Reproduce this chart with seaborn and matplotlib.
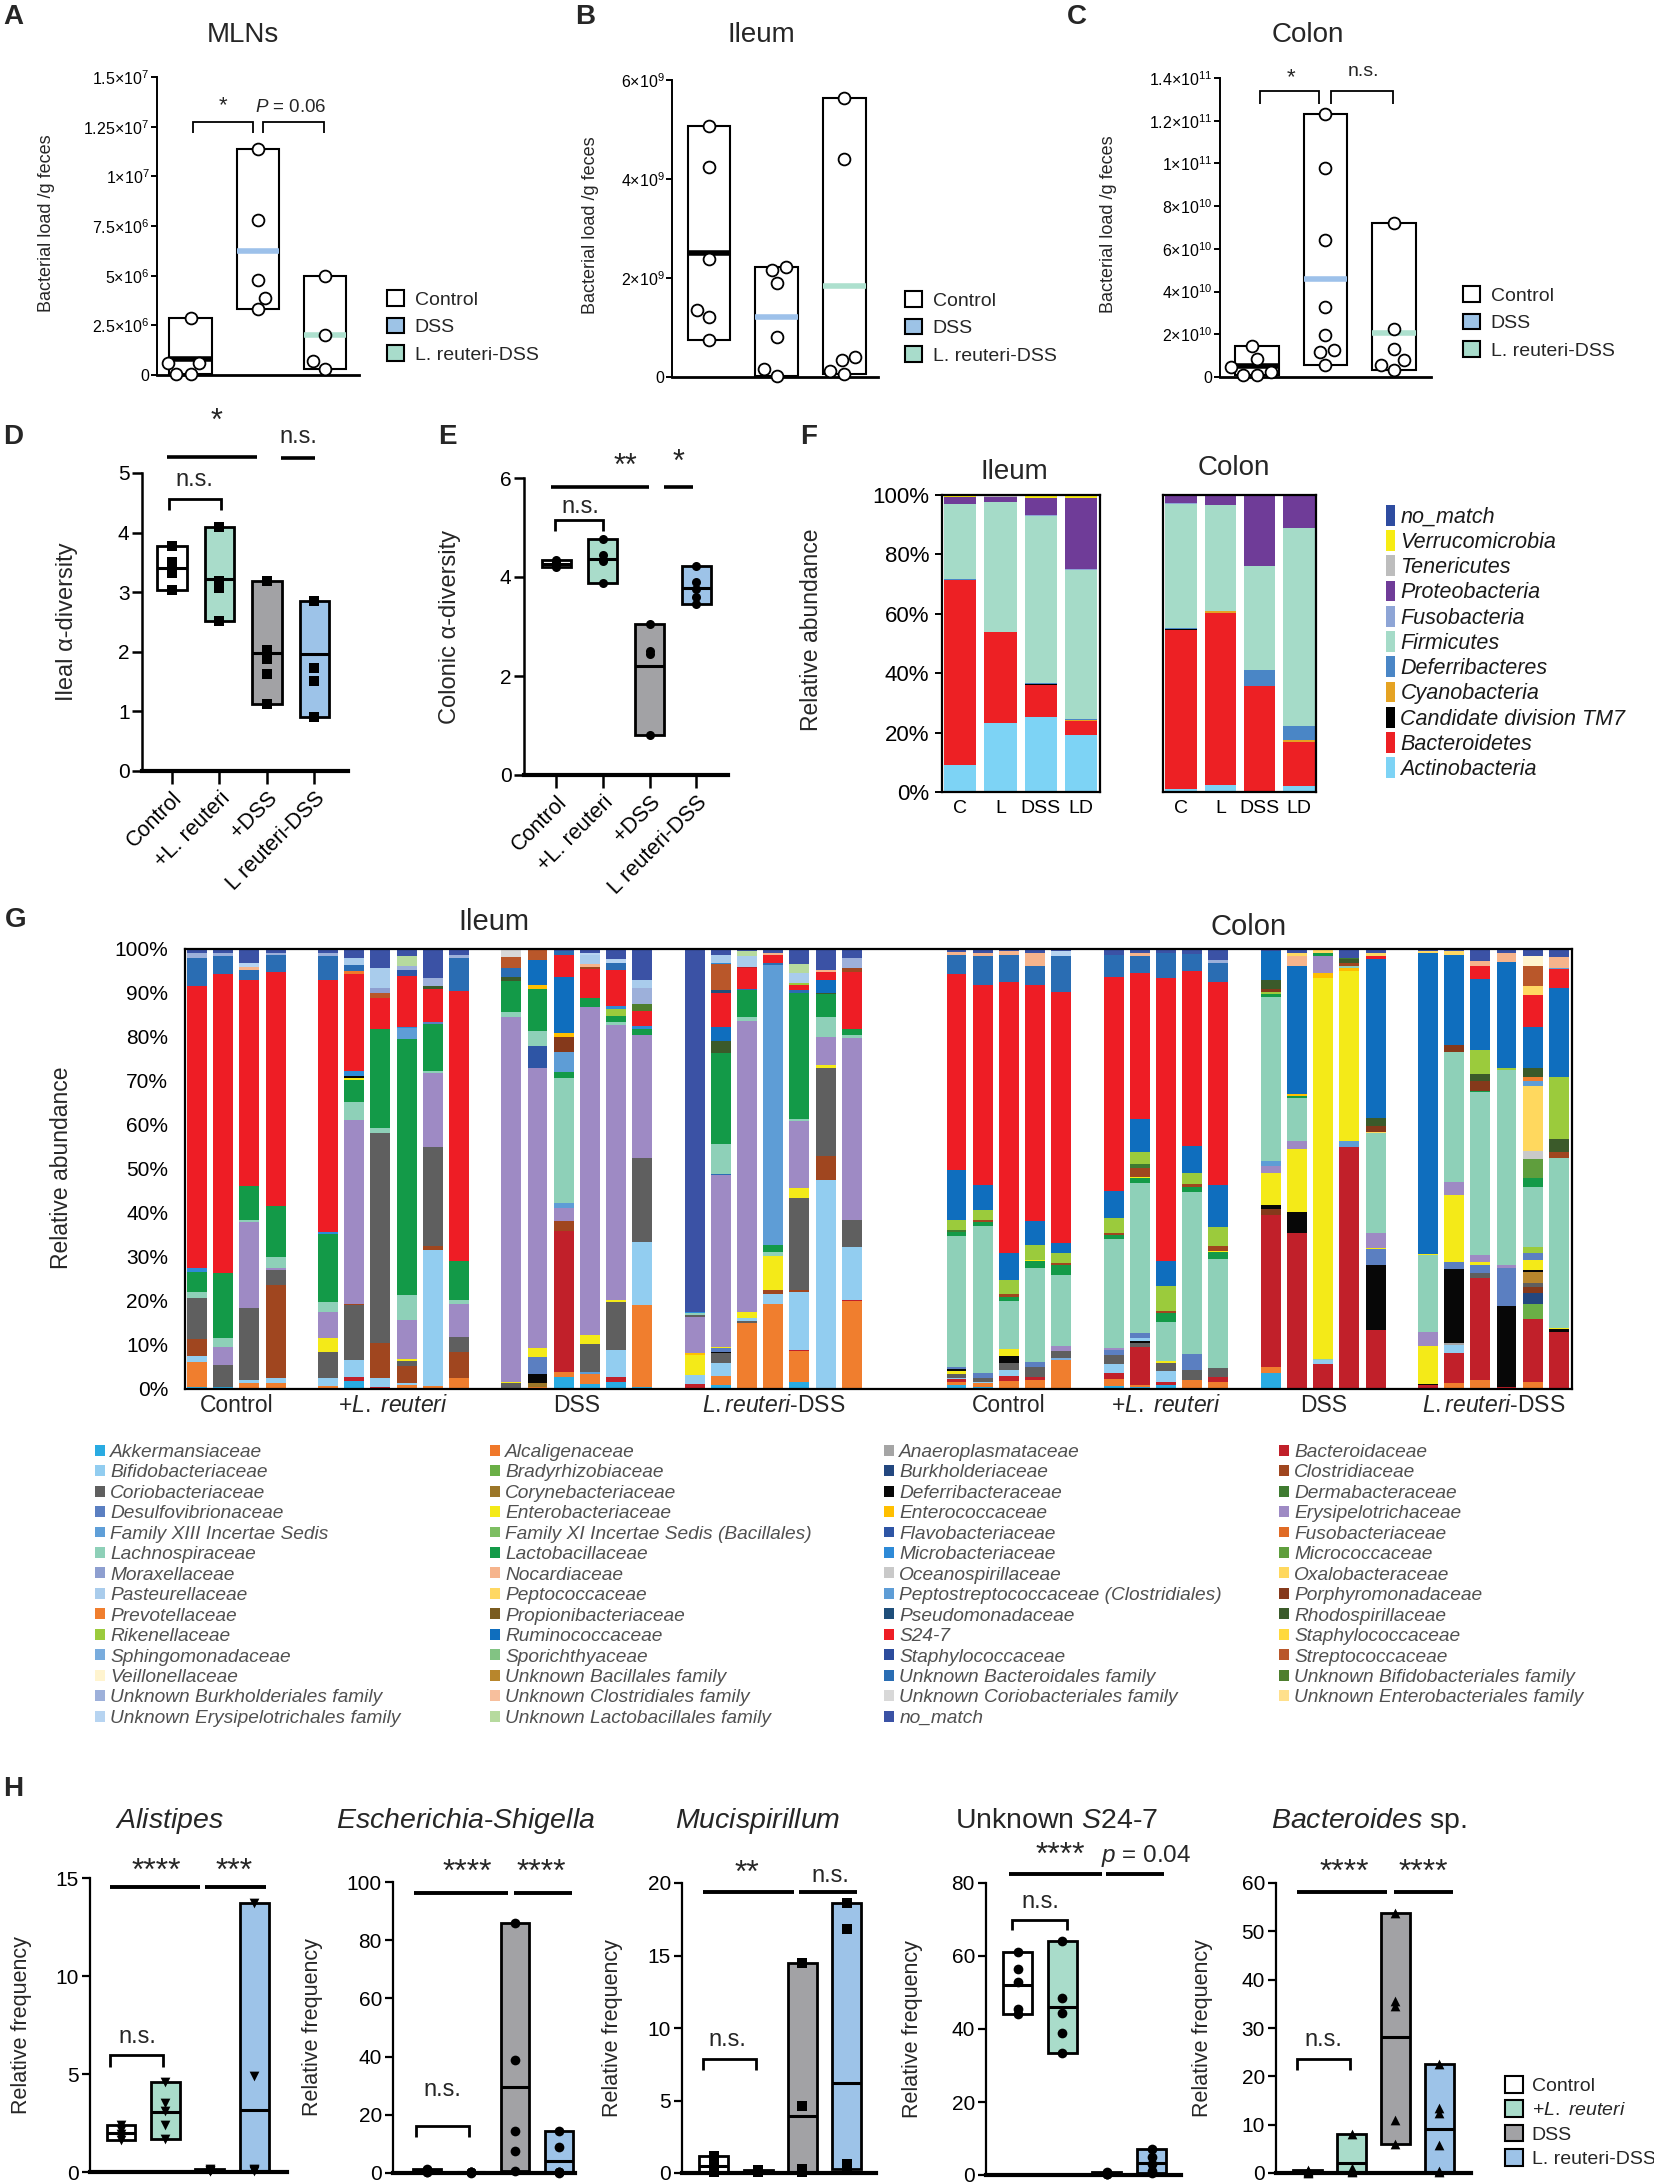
import numpy as np
import pandas as pd
import matplotlib.pyplot as plt
from matplotlib.patches import Patch
import seaborn as sns

# ---------------- A-C: bacterial load / g feces ----------------
abc_groups = ['Control', 'DSS', 'L. reuteri-DSS']
mln_control = [2.85e6, 0.6e6, 0.6e6, 0.05e6, 0.05e6]
mln_dss = [11.4e6, 7.8e6, 4.8e6, 3.9e6, 3.3e6]
mln_lrdss = [5.0e6, 2.0e6, 0.7e6, 0.3e6]
ileum_control = [5.07e9, 4.25e9, 2.39e9, 1.35e9, 1.21e9, 0.755e9]
ileum_dss = [2.22e9, 2.16e9, 1.9e9, 0.81e9, 0.17e9, 0.03e9]
ileum_lrdss = [5.63e9, 4.4e9, 0.4e9, 0.34e9, 0.13e9, 0.07e9]
colon_control = [1.45e10, 0.85e10, 0.45e10, 0.25e10, 0.1e10, 0.1e10]
colon_dss = [12.3e10, 9.8e10, 6.4e10, 3.3e10, 1.95e10, 1.25e10, 1.17e10, 0.58e10]
colon_lrdss = [7.2e10, 2.27e10, 1.33e10, 0.78e10, 0.55e10, 0.31e10]

mln_ticks = [0, 2.5e6, 5e6, 7.5e6, 1e7, 1.25e7, 1.5e7]
mln_ticklabels = ['0', '2.5×10$^{6}$', '5×10$^{6}$', '7.5×10$^{6}$',
                  '1×10$^{7}$', '1.25×10$^{7}$', '1.5×10$^{7}$']
ileum_ticks = [0, 2e9, 4e9, 6e9]
ileum_ticklabels = ['0', '2×10$^{9}$', '4×10$^{9}$', '6×10$^{9}$']
colon_ticks = [0, 2e10, 4e10, 6e10, 8e10, 1e11, 1.2e11, 1.4e11]
colon_ticklabels = ['0', '2×10$^{10}$', '4×10$^{10}$', '6×10$^{10}$', '8×10$^{10}$',
                    '1×10$^{11}$', '1.2×10$^{11}$', '1.4×10$^{11}$']

# ---------------- D-E: alpha diversity ----------------
de_groups = ['Control', '+L. reuteri', '+DSS', 'L reuteri-DSS']
ileal_control = [3.78, 3.51, 3.33, 3.03]
ileal_lr = [4.1, 3.19, 3.07, 2.52]
ileal_dss = [3.19, 2.03, 1.88, 1.63, 1.13]
ileal_lrdss = [2.86, 2.86, 1.72, 1.51, 0.9]
colonic_control = [4.35, 4.3, 4.28, 4.22, 4.2]
colonic_lr = [4.77, 4.45, 4.32, 3.88]
colonic_dss = [3.05, 2.5, 2.45, 0.8]
colonic_lrdss = [4.22, 3.9, 3.75, 3.6, 3.45]

# ---------------- F: phylum level ----------------
f_phyla = ['Actinobacteria', 'Bacteroidetes', 'Candidate division TM7', 'Cyanobacteria',
           'Deferribacteres', 'Firmicutes', 'Fusobacteria', 'Proteobacteria',
           'Tenericutes', 'Verrucomicrobia', 'no_match']
f_samples = ['C', 'L', 'DSS', 'LD']
f_ileum_c = [9.2, 62.4, 0.1, 0.1, 0.1, 25.5, 0.1, 2.2, 0.1, 0.3, 0.3]
f_ileum_l = [23.3, 30.6, 0.1, 0.1, 0.1, 43.8, 0.1, 1.6, 0.1, 0.3, 0.2]
f_ileum_dss = [25.3, 10.9, 0.1, 0.2, 0.3, 56.3, 0.1, 5.9, 0.1, 0.7, 0.2]
f_ileum_ld = [19.3, 4.5, 0.1, 0.5, 0.1, 50.5, 0.1, 24.1, 0.1, 0.6, 0.3]
f_colon_c = [1.0, 53.8, 0.1, 0.1, 0.3, 42.0, 0.1, 2.4, 0.1, 0.1, 0.2]
f_colon_l = [2.5, 57.9, 0.1, 0.5, 0.1, 35.7, 0.1, 2.8, 0.1, 0.1, 0.3]
f_colon_dss = [0.5, 35.2, 0.1, 0.1, 5.4, 34.8, 0.1, 23.5, 0.1, 0.3, 0.1]
f_colon_ld = [1.9, 15.0, 0.1, 0.5, 4.8, 66.9, 0.1, 10.7, 0.1, 0.1, 0.1]
f_colors = ['#7DD3F5', '#ED2024', '#000000', '#E5A323', '#4A86C6', '#A5DBC8',
            '#8EA5D6', '#6F3C98', '#BDBDBD', '#F7EC13', '#2E4CA0']

# ---------------- G: family level ----------------
family_codes = ['akk', 'bif', 'cori', 'desu', 'fx13', 'lach', 'mora', 'past', 'prev', 'rike',
                'sphi', 'veil', 'uburk', 'uery',
                'alca', 'brad', 'cory', 'ente', 'fx11', 'lact', 'noca', 'pepc', 'prop', 'rumi',
                'spor', 'ubaci', 'uclos', 'ulact',
                'anae', 'burk', 'defe', 'entc', 'flav', 'micb', 'ocea', 'pept', 'pseu', 's247',
                'stap', 'ubact', 'ucori', 'nom',
                'bact', 'clos', 'derm', 'erys', 'fuso', 'micc', 'oxal', 'porp', 'rhod', 'stap2',
                'strep', 'ubifi', 'uente']
family_names = ['Akkermansiaceae', 'Bifidobacteriaceae', 'Coriobacteriaceae', 'Desulfovibrionaceae',
                'Family XIII Incertae Sedis', 'Lachnospiraceae', 'Moraxellaceae', 'Pasteurellaceae',
                'Prevotellaceae', 'Rikenellaceae', 'Sphingomonadaceae', 'Veillonellaceae',
                'Unknown Burkholderiales family', 'Unknown Erysipelotrichales family',
                'Alcaligenaceae', 'Bradyrhizobiaceae', 'Corynebacteriaceae', 'Enterobacteriaceae',
                'Family XI Incertae Sedis (Bacillales)', 'Lactobacillaceae', 'Nocardiaceae',
                'Peptococcaceae', 'Propionibacteriaceae', 'Ruminococcaceae', 'Sporichthyaceae',
                'Unknown Bacillales family', 'Unknown Clostridiales family',
                'Unknown Lactobacillales family',
                'Anaeroplasmataceae', 'Burkholderiaceae', 'Deferribacteraceae', 'Enterococcaceae',
                'Flavobacteriaceae', 'Microbacteriaceae', 'Oceanospirillaceae',
                'Peptostreptococcaceae (Clostridiales)', 'Pseudomonadaceae', 'S24-7',
                'Staphylococcaceae', 'Unknown Bacteroidales family',
                'Unknown Coriobacteriales family', 'no_match',
                'Bacteroidaceae', 'Clostridiaceae', 'Dermabacteraceae', 'Erysipelotrichaceae',
                'Fusobacteriaceae', 'Micrococcaceae', 'Oxalobacteraceae', 'Porphyromonadaceae',
                'Rhodospirillaceae', 'Staphylococcaceae', 'Streptococcaceae',
                'Unknown Bifidobacteriales family', 'Unknown Enterobacteriales family']
family_colors = ['#29ABE2', '#92CDF0', '#5F5F5F', '#5B7FC1', '#5F9FD8', '#8ED0B8', '#8E9FD0',
                 '#A9CCEC', '#F07E2E', '#9BCB3C', '#79ACDD', '#FFF4CF', '#9DB0DA', '#B7D4F1',
                 '#F0782A', '#6AAF46', '#9B7628', '#F4EA18', '#7DBE62', '#139A48', '#F6B48C',
                 '#FFD863', '#7A5B1F', '#0F6EBE', '#82C383', '#B8862C', '#F7BF9D', '#B6DA9E',
                 '#A5A5A5', '#23477F', '#070707', '#FFBF00', '#2E55A5', '#2E8AD7', '#C9C9C9',
                 '#5E9DD6', '#1F4E7A', '#EE1D25', '#2C4C9C', '#2A6DB3', '#D8D8D8', '#3B52A5',
                 '#C1202A', '#A0461F', '#3F7B31', '#9E8AC4', '#E06B25', '#5F9E3D', '#FFD85E',
                 '#85391B', '#3B5A2A', '#FFD93C', '#B9572A', '#4E7E2E', '#FFE08C']

ileum_control_bars = [
    [('akk', 0.5), ('prev', 5.7), ('bif', 1.2), ('clos', 3.9), ('cori', 9.3), ('lach', 1.4), ('lact', 4.7),
     ('micb', 0.7), ('s247', 64.3), ('ubact', 6.3), ('uburk', 1.2), ('nom', 0.8)],
    [('akk', 0.5), ('cori', 5.0), ('erys', 4.1), ('lach', 1.9), ('lact', 14.8), ('s247', 68.0),
     ('ubact', 4.0), ('uburk', 0.8), ('nom', 0.9)],
    [('akk', 0.3), ('prev', 1.0), ('bif', 0.7), ('cori', 16.4), ('erys', 19.6), ('lach', 0.6), ('lact', 7.7),
     ('s247', 46.9), ('ubact', 2.4), ('noca', 0.6), ('uery', 0.9), ('nom', 3.2)],
    [('akk', 0.3), ('prev', 1.0), ('bif', 1.1), ('clos', 21.3), ('cori', 3.4), ('erys', 0.3), ('lach', 2.5),
     ('lact', 11.6), ('s247', 53.3), ('ubact', 3.9), ('uburk', 0.5), ('nom', 0.8)],
]
ileum_lr_bars = [
    [('akk', 0.3), ('prev', 0.4), ('bif', 1.7), ('cori', 6.1), ('ente', 3.2), ('erys', 5.9), ('lach', 2.1),
     ('lact', 15.6), ('micb', 0.3), ('s247', 57.4), ('ubact', 5.3), ('uburk', 0.8), ('nom', 0.9)],
    [('akk', 1.9), ('bact', 0.9), ('bif', 3.8), ('cori', 12.5), ('clos', 0.2), ('erys', 41.8), ('lach', 4.1),
     ('lact', 5.0), ('ente', 0.5), ('defe', 0.4), ('micb', 1.1), ('s247', 22.1), ('alca', 0.6),
     ('ubact', 1.5), ('past', 1.5), ('nom', 2.1)],
    [('bact', 0.4), ('bif', 2.0), ('clos', 8.0), ('cori', 47.8), ('lach', 1.1), ('lact', 22.7), ('s247', 6.9),
     ('strep', 1.3), ('mora', 1.0), ('past', 4.6), ('nom', 4.3)],
    [('prev', 0.9), ('bif', 0.4), ('clos', 3.9), ('cori', 1.1), ('ente', 0.6), ('erys', 8.7), ('lach', 5.7),
     ('lact', 58.1), ('pept', 2.5), ('micb', 0.4), ('s247', 11.5), ('flav', 1.4), ('uburk', 0.8),
     ('ulact', 2.3), ('nom', 1.6)],
    [('prev', 0.7), ('bif', 30.9), ('clos', 0.8), ('cori', 22.7), ('erys', 16.8), ('lach', 0.3),
     ('lact', 10.8), ('desu', 0.5), ('s247', 7.4), ('rhod', 0.8), ('uburk', 1.7), ('nom', 6.6)],
    [('prev', 2.4), ('clos', 6.1), ('cori', 3.4), ('erys', 7.4), ('lach', 0.9), ('lact', 8.9),
     ('s247', 61.3), ('ubact', 7.6), ('uburk', 0.7), ('nom', 1.3)],
]
ileum_dss_bars = [
    [('bact', 0.2), ('cori', 1.1), ('ente', 0.3), ('erys', 82.9), ('lach', 1.1), ('lact', 7.2), ('rhod', 0.8),
     ('ubact', 2.0), ('strep', 2.5), ('ucori', 1.6), ('nom', 0.3)],
    [('prev', 0.5), ('cory', 0.9), ('defe', 2.1), ('desu', 3.8), ('ente', 2.1), ('erys', 63.4), ('flav', 5.1),
     ('lach', 3.3), ('lact', 9.6), ('entc', 0.9), ('rumi', 5.7), ('strep', 2.1), ('nom', 0.3)],
    [('akk', 2.8), ('prev', 1.1), ('bact', 31.9), ('clos', 2.3), ('erys', 3.0), ('pept', 1.1), ('lach', 28.5),
     ('lact', 1.3), ('pept', 4.7), ('porp', 3.4), ('entc', 0.8), ('rumi', 12.7), ('s247', 5.1),
     ('ubact', 0.8), ('nom', 0.5)],
    [('akk', 1.1), ('prev', 2.4), ('pept', 0.3), ('cori', 6.3), ('ente', 2.1), ('erys', 74.1), ('lact', 2.1),
     ('s247', 6.4), ('clos', 0.5), ('noca', 0.6), ('past', 2.2), ('uery', 0.5), ('nom', 0.8)],
    [('akk', 1.7), ('bact', 1.0), ('bif', 6.2), ('cori', 11.1), ('ente', 0.3), ('erys', 62.9), ('lach', 0.8),
     ('lact', 1.4), ('rike', 1.5), ('micb', 0.8), ('s247', 8.3), ('ubact', 1.5), ('uery', 0.8),
     ('nom', 2.4)],
    [('akk', 0.5), ('prev', 18.6), ('bif', 14.4), ('cori', 19.0), ('erys', 28.0), ('lact', 1.3), ('micb', 0.6),
     ('s247', 3.6), ('ubifi', 1.6), ('uburk', 3.5), ('past', 1.9), ('nom', 7.0)],
]
ileum_lrdss_bars = [
    [('bact', 1.1), ('bif', 2.1), ('ente', 4.5), ('entc', 0.4), ('erys', 8.3), ('cori', 0.4), ('lach', 0.4),
     ('micb', 0.4), ('nom', 82.4)],
    [('akk', 0.9), ('prev', 2.1), ('bif', 3.0), ('cori', 2.1), ('defe', 0.3), ('desu', 0.8), ('ente', 0.3),
     ('erys', 39.0), ('ubact', 0.4), ('lach', 6.8), ('lact', 20.6), ('rhod', 2.7), ('rumi', 3.1),
     ('s247', 7.7), ('pseu', 0.8), ('strep', 5.9), ('micb', 0.3), ('past', 1.7), ('nom', 1.4)],
    [('akk', 0.3), ('prev', 14.6), ('cori', 0.6), ('bif', 0.5), ('ente', 1.5), ('erys', 65.9), ('lach', 0.8),
     ('lact', 6.1), ('ubact', 0.4), ('s247', 4.7), ('bact', 0.3), ('past', 2.4), ('ulact', 1.2),
     ('nom', 0.4)],
    [('akk', 0.3), ('prev', 18.9), ('bif', 2.3), ('clos', 1.0), ('ente', 7.7), ('lach', 0.8), ('lact', 1.7),
     ('pept', 63.4), ('ubact', 0.5), ('s247', 1.7), ('noca', 0.5), ('nom', 0.9)],
    [('akk', 1.7), ('prev', 7.0), ('bact', 0.2), ('bif', 13.2), ('clos', 0.4), ('cori', 20.8), ('ente', 2.4),
     ('erys', 15.2), ('lach', 0.5), ('lact', 28.4), ('ubact', 0.7), ('s247', 1.2), ('rike', 0.4),
     ('past', 2.4), ('ulact', 2.1), ('nom', 3.3)],
    [('bact', 0.3), ('bif', 47.0), ('clos', 5.5), ('cori', 19.9), ('ente', 0.7), ('erys', 6.3), ('lach', 4.5),
     ('lact', 5.3), ('rhod', 0.3), ('rumi', 2.8), ('s247', 1.9), ('noca', 0.4), ('nom', 4.8)],
    [('akk', 0.3), ('prev', 19.7), ('bact', 0.3), ('bif', 11.9), ('cori', 6.2), ('erys', 41.3), ('lach', 0.8),
     ('lact', 1.3), ('s247', 13.0), ('clos', 0.8), ('uburk', 2.4), ('nom', 2.0)],
]
colon_control_bars = [
    [('akk', 0.8), ('prev', 0.9), ('bact', 0.5), ('bif', 0.2), ('cori', 1.0), ('ente', 0.7), ('defe', 0.5),
     ('desu', 0.5), ('lach', 29.6), ('lact', 1.1), ('derm', 0.3), ('rike', 2.4), ('rumi', 11.4),
     ('s247', 44.6), ('ubact', 4.3), ('noca', 0.7), ('nom', 0.6)],
    [('akk', 0.4), ('prev', 0.9), ('bif', 0.4), ('cori', 0.8), ('desu', 1.1), ('lach', 33.4), ('lact', 1.1),
     ('clos', 0.3), ('rike', 2.4), ('rumi', 5.5), ('s247', 45.7), ('ubact', 6.4), ('noca', 0.9),
     ('nom', 0.8)],
    [('akk', 0.3), ('prev', 1.5), ('bact', 1.1), ('bif', 1.4), ('cori', 1.7), ('defe', 1.4), ('ente', 1.6),
     ('lach', 11.1), ('lact', 0.9), ('clos', 0.5), ('rike', 3.3), ('rumi', 6.1), ('s247', 61.8),
     ('ubact', 6.1), ('noca', 0.8), ('nom', 0.5)],
    [('akk', 0.3), ('prev', 1.7), ('bact', 0.8), ('cori', 2.1), ('desu', 1.3), ('lach', 21.4), ('lact', 1.5),
     ('ente', 0.3), ('rike', 3.3), ('rumi', 5.6), ('s247', 53.5), ('ubact', 4.5), ('noca', 2.9),
     ('nom', 0.9)],
    [('akk', 0.3), ('prev', 6.3), ('sphi', 0.4), ('cori', 1.7), ('erys', 1.0), ('lach', 16.3), ('lact', 2.3),
     ('clos', 0.3), ('rike', 2.3), ('rumi', 2.3), ('s247', 57.1), ('ubact', 8.3), ('uery', 1.0),
     ('nom', 0.5)],
]
colon_lr_bars = [
    [('akk', 0.7), ('prev', 1.6), ('bact', 1.4), ('bif', 2.0), ('cori', 2.0), ('desu', 1.1), ('erys', 0.6),
     ('lach', 24.6), ('lact', 0.9), ('clos', 0.6), ('rike', 3.4), ('rumi', 6.1), ('s247', 48.5),
     ('ubact', 5.1), ('nom', 1.3)],
    [('akk', 0.5), ('prev', 0.3), ('bact', 8.7), ('cori', 0.9), ('defe', 0.4), ('bif', 0.8), ('desu', 1.1),
     ('lach', 34.1), ('lact', 1.1), ('ente', 0.3), ('clos', 1.9), ('derm', 1.0), ('rike', 2.8),
     ('rumi', 7.3), ('s247', 33.2), ('ubact', 3.8), ('noca', 0.9), ('nom', 0.8)],
    [('akk', 0.8), ('bact', 0.9), ('bif', 2.3), ('cori', 2.0), ('ente', 0.3), ('lach', 8.9), ('lact', 2.0),
     ('clos', 0.5), ('rike', 5.7), ('rumi', 5.8), ('s247', 64.3), ('ubact', 5.7), ('nom', 0.9)],
    [('prev', 2.0), ('cori', 2.3), ('desu', 3.6), ('lach', 36.9), ('lact', 1.0), ('clos', 0.8), ('rike', 2.4),
     ('rumi', 6.2), ('s247', 39.8), ('ubact', 3.9), ('nom', 1.1)],
    [('prev', 1.7), ('bact', 1.0), ('cori', 2.0), ('lach', 24.8), ('lact', 1.6), ('ente', 0.4), ('clos', 1.1),
     ('rike', 4.2), ('rumi', 9.7), ('s247', 46.2), ('ubact', 4.3), ('uburk', 0.5), ('nom', 2.6)],
]
colon_dss_bars = [
    [('akk', 3.6), ('prev', 1.4), ('bact', 34.6), ('porp', 1.5), ('defe', 0.8), ('ente', 7.4), ('erys', 1.5),
     ('pept', 1.2), ('lach', 37.2), ('lact', 0.8), ('rike', 0.3), ('porp', 0.8), ('rhod', 2.0),
     ('rumi', 6.6), ('nom', 0.5)],
    [('bact', 35.4), ('defe', 4.9), ('ente', 14.2), ('erys', 1.9), ('lach', 9.7), ('lact', 0.6),
     ('entc', 0.3), ('rumi', 29.2), ('noca', 2.3), ('pepc', 0.6), ('nom', 0.9)],
    [('bact', 5.7), ('bif', 0.8), ('lach', 0.3), ('ente', 86.6), ('entc', 1.1), ('erys', 3.9), ('lact', 0.6),
     ('pepc', 0.9)],
    [('prev', 0.3), ('bact', 54.8), ('pept', 1.4), ('ente', 38.7), ('entc', 0.5), ('lach', 0.5),
     ('clos', 0.8), ('rhod', 0.8), ('derm', 0.3), ('nom', 2.0)],
    [('bact', 13.4), ('defe', 14.8), ('desu', 3.6), ('ente', 0.3), ('erys', 3.3), ('lach', 22.8),
     ('pepc', 0.3), ('porp', 1.2), ('rhod', 1.9), ('rumi', 36.1), ('s247', 0.6), ('pepc', 0.8),
     ('nom', 0.9)],
]
colon_lrdss_bars = [
    [('bact', 0.9), ('defe', 0.3), ('ente', 8.5), ('erys', 3.3), ('lach', 17.4), ('ente', 0.3),
     ('rumi', 68.5), ('pepc', 0.5), ('nom', 0.4)],
    [('prev', 1.3), ('bact', 6.8), ('bif', 1.9), ('anae', 0.5), ('defe', 16.7), ('desu', 1.7),
     ('ente', 15.2), ('erys', 3.0), ('lach', 29.4), ('porp', 1.7), ('rumi', 20.3), ('pepc', 0.9),
     ('nom', 0.5)],
    [('akk', 0.3), ('prev', 1.7), ('bact', 23.3), ('cori', 1.0), ('desu', 1.9), ('ente', 0.6), ('erys', 1.7),
     ('lach', 36.9), ('lact', 0.3), ('porp', 2.3), ('rhod', 1.5), ('rike', 5.4), ('rumi', 16.2),
     ('s247', 3.0), ('noca', 1.0), ('nom', 2.8)],
    [('bact', 0.4), ('defe', 18.5), ('desu', 8.5), ('erys', 0.8), ('lach', 44.4), ('rike', 0.3),
     ('rumi', 24.1), ('noca', 2.1), ('nom', 0.9)],
    [('prev', 1.7), ('bact', 14.2), ('brad', 3.4), ('burk', 2.5), ('porp', 1.3), ('cori', 1.1),
     ('ubaci', 2.5), ('defe', 0.3), ('ente', 2.3), ('desu', 1.7), ('rike', 1.2), ('lach', 13.8),
     ('lact', 1.9), ('micc', 4.4), ('ocea', 1.7), ('oxal', 14.9), ('pept', 1.0), ('prev', 1.1),
     ('rhod', 1.9), ('rumi', 9.3), ('s247', 7.4), ('pepc', 1.9), ('strep', 4.7), ('veil', 2.3),
     ('nom', 1.5)],
    [('prev', 0.3), ('bact', 12.7), ('defe', 0.6), ('ente', 0.3), ('lach', 38.4), ('clos', 1.4),
     ('rhod', 3.0), ('rike', 14.0), ('rumi', 20.1), ('s247', 4.3), ('pept', 0.3), ('noca', 2.3),
     ('nom', 1.9)],
]
g_group_labels = ['Control', r'+$\it{L.\ reuteri}$', 'DSS', r'$\it{L.reuteri}$-DSS']

# ---------------- H: genus level ----------------
h_groups = ['Control', '+L. reuteri', 'DSS', 'L. reuteri-DSS']
alist_control = [2.4, 2.15, 1.95, 1.8, 1.65]
alist_lr = [4.6, 3.5, 3.1, 2.4, 1.7]
alist_dss = [0.15, 0.1, 0.05, 0.05, 0.03]
alist_lrdss = [13.7, 4.9, 0.15, 0.12, 0.08, 0.05]
esch_control = [1.5, 1.0, 0.8, 0.5, 0.3]
esch_lr = [0.5, 0.4, 0.3, 0.2, 0.1]
esch_dss = [86.0, 38.9, 14.3, 7.4, 0.6]
esch_lrdss = [14.6, 8.9, 0.4, 0.3, 0.2, 0.1]
muci_control = [1.15, 0.5, 0.35, 0.2, 0.1]
muci_lr = [0.2, 0.15, 0.1, 0.1, 0.05]
muci_dss = [14.5, 4.6, 0.3, 0.2, 0.1]
muci_lrdss = [18.6, 16.8, 0.6, 0.5, 0.4, 0.3]
s24_control = [61.2, 56.5, 53.0, 45.5, 44.0]
s24_lr = [64.0, 48.5, 44.5, 39.0, 33.5]
s24_dss = [0.8, 0.5, 0.4, 0.3, 0.2]
s24_lrdss = [7.2, 5.0, 3.0, 1.0, 0.5]
bacteroides_control = [0.6, 0.4, 0.3, 0.2, 0.1]
bacteroides_lr = [8.0, 1.0, 0.5, 0.5, 0.3]
bacteroides_dss = [53.8, 35.5, 34.5, 11.0, 6.0]
bacteroides_lrdss = [22.5, 13.5, 12.5, 5.8, 0.5, 0.2]

# colours
group_fills = ['white', '#A9DCCA', '#A2A2A5', '#9DC3E8']
abc_line_colors = ['black', '#9DC1EA', '#ADE0CE']
abc_legend_colors = ['white', '#9DC3E6', '#A8DCCB']

sns.set_style('ticks')
plt.rcParams['font.family'] = ['Liberation Sans', 'DejaVu Sans']
plt.rcParams['mathtext.fontset'] = 'custom'
plt.rcParams['mathtext.rm'] = 'Liberation Sans'
plt.rcParams['mathtext.it'] = 'Liberation Sans:italic'
plt.rcParams['mathtext.bf'] = 'Liberation Sans:bold'
plt.rcParams['axes.edgecolor'] = 'black'
plt.rcParams['xtick.color'] = 'black'
plt.rcParams['ytick.color'] = 'black'

W, H = 1654, 2183
fig = plt.figure(figsize=(W / 100, H / 100), dpi=100)


def px_axes(left, top, right, bottom):
    return fig.add_axes([left / W, 1 - bottom / H, (right - left) / W, (bottom - top) / H])


def fig_text(x, y, s, **kw):
    fig.text(x / W, 1 - y / H, s, ha=kw.pop('ha', 'center'), va=kw.pop('va', 'center'), **kw)


def floating(ax, groups, values, fills, line_colors, width, line_lw, swarm,
             marker='o', size=7, color='black', edgecolor='black', ew=0.0, box_lw=1.5):
    for i, vals in enumerate(values):
        lo, hi = min(vals), max(vals)
        ax.bar(i, hi - lo, bottom=lo, width=width, color=fills[i],
               edgecolor='black', linewidth=box_lw, zorder=1)
        ax.hlines(np.mean(vals), i - width / 2, i + width / 2, colors=line_colors[i],
                  linewidth=line_lw, zorder=2, capstyle='butt')
    df = pd.DataFrame({'group': np.repeat(groups, [len(v) for v in values]),
                       'value': np.concatenate(values)})
    n0 = len(ax.collections)
    kw = dict(data=df, x='group', y='value', order=groups, ax=ax, marker=marker,
              size=size, color=color, edgecolor=edgecolor, linewidth=ew, legend=False)
    if swarm:
        sns.swarmplot(**kw)
    else:
        sns.stripplot(jitter=False, **kw)
    for c in ax.collections[n0:]:
        c.set_clip_on(False)
        c.set_zorder(3)
    ax.set_xlabel('')
    ax.set_ylabel('')


def sig(ax, x1, x2, y, drop=0.0, lw=1.5):
    ax.plot([x1, x1, x2, x2], [y - drop, y, y, y - drop], color='black', lw=lw,
            clip_on=False, solid_capstyle='butt', solid_joinstyle='miter')


def note(ax, x, y, s, fs):
    ax.text(x, y, s, ha='center', va='center', fontsize=fs, clip_on=False)


def style(ax, xlim, ylim, ticks, ticklabels, fs, tick_len, pad=2, bottom_lw=2.0, left_lw=1.4):
    ax.set_xlim(*xlim)
    ax.set_ylim(*ylim)
    ax.set_yticks(ticks, ticklabels)
    ax.tick_params(axis='y', labelsize=fs, length=tick_len, width=left_lw, pad=pad)
    ax.spines['top'].set_visible(False)
    ax.spines['right'].set_visible(False)
    ax.spines['left'].set_linewidth(left_lw)
    ax.spines['bottom'].set_linewidth(bottom_lw)


# ---------------- panels A-C ----------------
abc_specs = [
    ('MLNs', (157, 77, 359, 375), [mln_control, mln_dss, mln_lrdss], (-0.5, 2.51), (0, 1.5e7),
     mln_ticks, mln_ticklabels, -0.507, 243, 387, 290),
    ('Ileum', (672, 80, 878, 377), [ileum_control, ileum_dss, ileum_lrdss], (-0.55, 2.5), (0, 6e9),
     ileum_ticks, ileum_ticklabels, -0.354, 761, 905, 291),
    ('Colon', (1220, 78, 1431, 377), [colon_control, colon_dss, colon_lrdss], (-0.54, 2.54), (0, 1.4e11),
     colon_ticks, colon_ticklabels, -0.49, 1308, 1463, 286),
]
abc_axes = []
for title, box, vals, xlim, ylim, ticks, tlabels, ylab_x, title_x, leg_x, leg_y in abc_specs:
    ax = px_axes(*box)
    ax.set_ylim(*ylim)
    ax.set_xlim(*xlim)
    floating(ax, abc_groups, vals, ['white'] * 3, abc_line_colors, 0.63, 4.0, True,
             size=8.5, color='white', edgecolor='black', ew=1.3, box_lw=1.5)
    style(ax, xlim, ylim, ticks, tlabels, 11.5, 4, pad=1.5, bottom_lw=2.0, left_lw=1.4)
    ax.set_xticks([])
    ax.set_ylabel('Bacterial load /g feces', fontsize=13)
    ax.yaxis.set_label_coords(ylab_x, 0.51)
    fig_text(title_x, 35, title, fontsize=20)
    handles = [Patch(facecolor=c, edgecolor='black', linewidth=1.5) for c in abc_legend_colors]
    fig.legend(handles, abc_groups, loc='upper left', bbox_to_anchor=(leg_x / W, 1 - leg_y / H),
               frameon=False, fontsize=14, handlelength=0.87, handleheight=0.87,
               handletextpad=0.55, labelspacing=0.46, borderpad=0, borderaxespad=0)
    abc_axes.append(ax)

ax = abc_axes[0]
sig(ax, 0.04, 0.93, 12.75e6, 0.55e6, lw=1.3)
sig(ax, 1.08, 1.99, 12.75e6, 0.55e6, lw=1.3)
note(ax, 0.49, 13.55e6, '*', 16)
note(ax, 1.5, 13.45e6, r'$\it{P}$ = 0.06', 13.5)
ax = abc_axes[2]
sig(ax, 0.05, 0.9, 13.4e10, 0.6e10, lw=1.3)
sig(ax, 1.08, 1.98, 13.4e10, 0.6e10, lw=1.3)
note(ax, 0.5, 14.0e10, '*', 16)
note(ax, 1.55, 14.3e10, 'n.s.', 14)

# ---------------- panels D-E ----------------
de_specs = [
    ((142, 473, 348, 771), [ileal_control, ileal_lr, ileal_dss, ileal_lrdss], 's', (-0.63, 3.71),
     (0, 5), [0, 1, 2, 3, 4, 5], 'Ileal α-diversity', -0.31),
    ((524, 478, 728, 775), [colonic_control, colonic_lr, colonic_dss, colonic_lrdss], 'o', (-0.69, 3.68),
     (0, 6), [0, 2, 4, 6], 'Colonic α-diversity', -0.31),
]
de_axes = []
for box, vals, marker, xlim, ylim, ticks, ylabel, ylab_x in de_specs:
    ax = px_axes(*box)
    ax.set_ylim(*ylim)
    floating(ax, de_groups, vals, group_fills, ['black'] * 4, 0.62, 2.2, False,
             marker=marker, size=6.5, box_lw=2.0)
    style(ax, xlim, ylim, ticks, [str(t) for t in ticks], 15, 7.5, pad=1.5, bottom_lw=3.0, left_lw=1.8)
    ax.set_xticks(range(4), de_groups, rotation=45, ha='right', rotation_mode='anchor', fontsize=15.5)
    ax.tick_params(axis='x', length=9, width=1.8, pad=3)
    ax.set_ylabel(ylabel, fontsize=17)
    ax.yaxis.set_label_coords(ylab_x, 0.5)
    de_axes.append(ax)

ax = de_axes[0]
sig(ax, -0.07, 1.04, 4.57, 0.19, lw=2.0)
note(ax, 0.48, 4.88, 'n.s.', 17)
sig(ax, -0.1, 1.8, 5.27, lw=2.6)
note(ax, 0.94, 5.85, '*', 22)
sig(ax, 2.3, 3.02, 5.26, lw=2.6)
note(ax, 2.66, 5.6, 'n.s.', 17)
ax = de_axes[1]
sig(ax, -0.03, 1.0, 5.15, 0.22, lw=2.0)
note(ax, 0.52, 5.42, 'n.s.', 17)
sig(ax, -0.11, 1.98, 5.82, lw=2.6)
note(ax, 1.48, 6.22, '**', 22)
sig(ax, 2.31, 2.94, 5.82, lw=2.6)
note(ax, 2.62, 6.3, '*', 22)

# ---------------- panel F ----------------
f_tissues = [('Ileum', (942, 495, 1100, 792), [f_ileum_c, f_ileum_l, f_ileum_dss, f_ileum_ld],
              (-0.45, 3.47), 1014, 472),
             ('Colon', (1163, 495, 1316, 792), [f_colon_c, f_colon_l, f_colon_dss, f_colon_ld],
              (-0.46, 3.43), 1234, 468)]
for k, (title, box, bars, xlim, tx, ty) in enumerate(f_tissues):
    ax = px_axes(*box)
    for i, bar in enumerate(bars):
        total = sum(bar)
        bottom = 0
        for v, c in zip(bar, f_colors):
            h = v * 100 / total
            ax.bar(i, h, bottom=bottom, width=0.8, color=c, linewidth=0)
            bottom += h
    ax.set_xlim(*xlim)
    ax.set_ylim(0, 100)
    ax.set_xticks(range(4), f_samples, fontsize=14)
    ax.tick_params(axis='x', length=0, pad=6)
    for s in ax.spines.values():
        s.set_linewidth(1.6)
    if k == 0:
        ax.set_yticks([0, 20, 40, 60, 80, 100], ['0%', '20%', '40%', '60%', '80%', '100%'])
        ax.tick_params(axis='y', labelsize=16, length=5, width=1.4, pad=4)
        ax.set_ylabel('Relative abundance', fontsize=16.5)
        ax.yaxis.set_label_coords(-0.75, 0.545)
    else:
        ax.set_yticks([])
    fig_text(tx, ty, title, fontsize=20)
f_handles = [Patch(facecolor=c, linewidth=0) for c in f_colors][::-1]
fig.legend(f_handles, f_phyla[::-1], loc='upper left', bbox_to_anchor=(1386 / W, 1 - 505 / H),
           frameon=False, prop={'style': 'italic', 'size': 15.5}, labelcolor='#1a1a1a',
           handlelength=0.42, handleheight=1.1, handletextpad=0.25, labelspacing=0.12,
           borderpad=0, borderaxespad=0)

# ---------------- panel G ----------------
axg = px_axes(185, 949, 1572, 1389)
color_of = dict(zip(family_codes, family_colors))
g_groups = [ileum_control_bars, ileum_lr_bars, ileum_dss_bars, ileum_lrdss_bars,
            colon_control_bars, colon_lr_bars, colon_dss_bars, colon_lrdss_bars]
pos = 0
centers = []
for gi, group in enumerate(g_groups):
    if gi == 4:
        pos += 2
    xs = []
    for bar in group:
        total = sum(v for _, v in bar)
        bottom = 0
        for code, v in bar:
            h = v * 100 / total
            axg.bar(pos, h, bottom=bottom, width=0.76, color=color_of[code], linewidth=0)
            bottom += h
        xs.append(pos)
        pos += 1
    centers.append(np.mean(xs))
    pos += 1
axg.set_xlim(-0.46, 52.5)
axg.set_ylim(0, 100)
axg.set_xticks([])
axg.set_yticks(range(0, 101, 10), [f'{t}%' for t in range(0, 101, 10)])
axg.tick_params(axis='y', labelsize=15, length=0, pad=12)
for s in axg.spines.values():
    s.set_linewidth(1.6)
axg.set_ylabel('Relative abundance', fontsize=16.5)
axg.yaxis.set_label_coords(-0.0804, 0.502)
for c, lab in zip(centers, g_group_labels * 2):
    axg.text(c, -1.2, lab, ha='center', va='top', fontsize=16.5)
fig_text(494, 922, 'Ileum', fontsize=21)
fig_text(1249, 927, 'Colon', fontsize=21)

g_handles = [Patch(facecolor=c, linewidth=0) for c in family_colors]
col_starts = [0, 14, 28, 42, 55]
for j, x in enumerate([95, 490, 884, 1279]):
    a, b = col_starts[j], col_starts[j + 1]
    fig.legend(g_handles[a:b], family_names[a:b], loc='upper left',
               bbox_to_anchor=(x / W, 1 - 1444 / H), frameon=False,
               prop={'style': 'italic', 'size': 13.8}, labelcolor='#505050',
               handlelength=0.5, handleheight=0.5, handletextpad=0.3, labelspacing=0.18,
               borderpad=0, borderaxespad=0)

# ---------------- panel H ----------------
h_specs = [
    (r'$\it{Alistipes}$', (90, 1878, 287, 2172), [alist_control, alist_lr, alist_dss, alist_lrdss], 'v',
     (-0.7, 3.74), (0, 15), [0, 5, 10, 15], -0.296, 169),
    (r'$\it{Escherichia}$-$\it{Shigella}$', (393, 1882, 575, 2173),
     [esch_control, esch_lr, esch_dss, esch_lrdss], 'o', (-0.77, 3.36), (0, 100),
     [0, 20, 40, 60, 80, 100], -0.385, 466),
    (r'$\it{Mucispirillum}$', (682, 1883, 876, 2173), [muci_control, muci_lr, muci_dss, muci_lrdss], 's',
     (-0.72, 3.66), (0, 20), [0, 5, 10, 15, 20], -0.304, 758),
    (r'Unknown $\it{S24}$-$\it{7}$', (986, 1883, 1181, 2175), [s24_control, s24_lr, s24_dss, s24_lrdss], 'o',
     (-0.71, 3.66), (0, 80), [0, 20, 40, 60, 80], -0.323, 1057),
    (r'$\it{Bacteroides}$ sp.', (1276, 1883, 1471, 2173),
     [bacteroides_control, bacteroides_lr, bacteroides_dss, bacteroides_lrdss], '^',
     (-0.72, 3.72), (0, 60), [0, 10, 20, 30, 40, 50, 60], -0.323, 1369),
]
h_axes = []
for title, box, vals, marker, xlim, ylim, ticks, ylab_x, title_x in h_specs:
    ax = px_axes(*box)
    ax.set_ylim(*ylim)
    floating(ax, h_groups, vals, group_fills, ['black'] * 4, 0.65, 2.2, False,
             marker=marker, size=7, box_lw=2.0)
    style(ax, xlim, ylim, ticks, [str(t) for t in ticks], 15, 6, pad=2, bottom_lw=3.0, left_lw=1.6)
    ax.set_xticks([])
    ax.set_ylabel('Relative frequency', fontsize=15.5)
    ax.yaxis.set_label_coords(ylab_x, 0.5)
    fig_text(title_x, 1821, title, fontsize=20.5)
    h_axes.append(ax)

ax = h_axes[0]
sig(ax, -0.24, 0.95, 5.98, 0.6, lw=2.0)
note(ax, 0.36, 6.9, 'n.s.', 17)
sig(ax, -0.24, 1.79, 14.54, lw=2.8)
note(ax, 0.79, 15.3, '****', 23)
sig(ax, 1.9, 3.26, 14.54, lw=2.8)
note(ax, 2.55, 15.3, '***', 23)
ax = h_axes[1]
sig(ax, -0.24, 0.96, 16.2, 4.0, lw=2.0)
note(ax, 0.36, 28.6, 'n.s.', 17)
sig(ax, -0.29, 1.85, 96.2, lw=2.8)
note(ax, 0.91, 103, '****', 23)
sig(ax, 1.97, 3.29, 96.2, lw=2.8)
note(ax, 2.6, 103, '****', 23)
ax = h_axes[2]
sig(ax, -0.24, 0.96, 7.86, 0.73, lw=2.0)
note(ax, 0.31, 9.2, 'n.s.', 17)
sig(ax, -0.24, 1.8, 19.36, lw=2.8)
note(ax, 0.74, 20.6, '**', 23)
sig(ax, 1.92, 3.24, 19.36, lw=2.8)
note(ax, 2.64, 20.5, 'n.s.', 17)
ax = h_axes[3]
sig(ax, -0.12, 1.11, 70, 2.9, lw=2.0)
note(ax, 0.5, 74.8, 'n.s.', 17)
sig(ax, -0.19, 1.89, 82.6, lw=2.8)
note(ax, 0.95, 87.5, '****', 23)
sig(ax, 1.99, 3.29, 82.6, lw=2.8)
note(ax, 2.88, 87.3, r'$\it{p}$ = 0.04', 17.5)
ax = h_axes[4]
sig(ax, -0.24, 0.96, 23.5, 2.2, lw=2.0)
note(ax, 0.36, 27.5, 'n.s.', 17)
sig(ax, -0.24, 1.8, 58.2, lw=2.8)
note(ax, 0.84, 62.0, '****', 23)
sig(ax, 1.97, 3.31, 58.2, lw=2.8)
note(ax, 2.64, 62.0, '****', 23)

h_handles = [Patch(facecolor=c, edgecolor='black', linewidth=1.5) for c in group_fills]
fig.legend(h_handles, ['Control', r'+$\it{L.\ reuteri}$', 'DSS', 'L. reuteri-DSS'], loc='upper left',
           bbox_to_anchor=(1505 / W, 1 - 2076 / H), frameon=False, fontsize=14,
           handlelength=0.93, handleheight=0.93, handletextpad=0.45, labelspacing=0.28,
           borderpad=0, borderaxespad=0)

# ---------------- panel letters ----------------
for letter, x, y in [('A', 3, 17), ('B', 575, 17), ('C', 1067, 17), ('D', 3, 437), ('E', 438, 437),
                     ('F', 800, 437), ('G', 5, 920), ('H', 3, 1789)]:
    fig_text(x, y, letter, fontsize=20, fontweight='bold', ha='left')

fig.savefig('out.png', dpi=100)
